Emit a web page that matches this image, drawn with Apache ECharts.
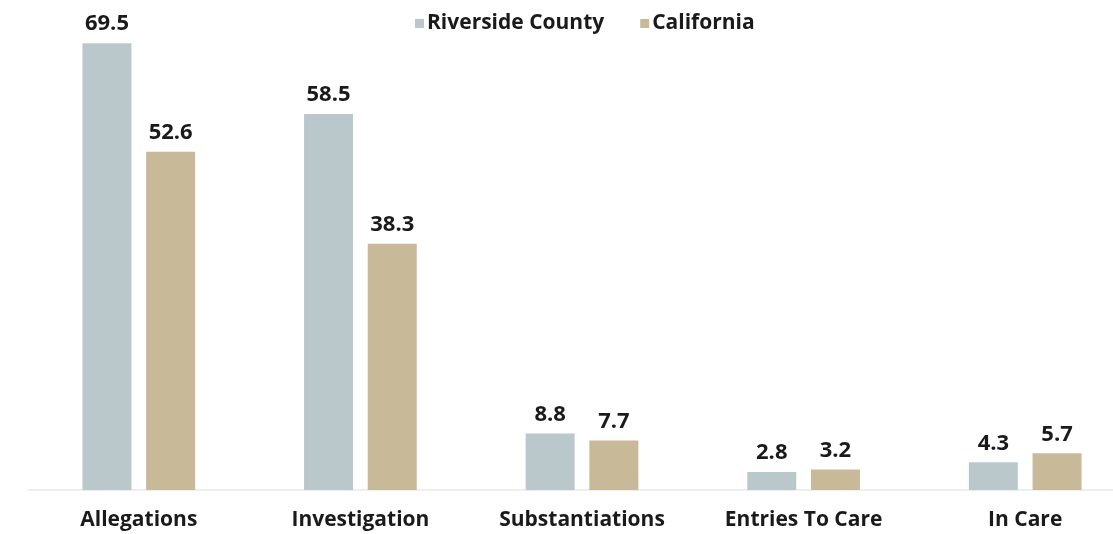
<!DOCTYPE html>
<html>
<head>
<meta charset="utf-8">
<script src="https://cdn.jsdelivr.net/npm/echarts@6/dist/echarts.min.js"></script>
<style>
  html, body { margin: 0; padding: 0; background: #fff; }
  #chart { width: 1113px; height: 534px; }
</style>
</head>
<body>
<div id="chart"></div>
<script>
// Rates per 1,000 children: Riverside County vs. California
const categories = ['Allegations', 'Investigation', 'Substantiations', 'Entries To Care', 'In Care'];
const riversideValues = [69.5, 58.5, 8.8, 2.8, 4.3];
const californiaValues = [52.6, 38.3, 7.7, 3.2, 5.7];
const seriesNames = ['Riverside County', 'California'];

const FONT = '"Open Sans", Lato, sans-serif';
const chart = echarts.init(document.getElementById('chart'), null, { renderer: 'canvas' });

const labelStyle = {
  show: true,
  position: 'top',
  distance: 8,
  color: '#1a1a1a',
  fontFamily: FONT,
  fontSize: 22,
  fontWeight: 'bold',
  formatter: p => p.value.toFixed(1)
};

chart.setOption({
  animation: false,
  backgroundColor: '#ffffff',
  legend: {
    top: 8,
    left: 410,
    itemWidth: 9,
    itemHeight: 9,
    itemGap: 36,
    icon: 'rect',
    textStyle: { fontFamily: FONT, fontSize: 21, fontWeight: 'bold', color: '#1a1a1a', padding: [0, 0, 0, -2] },
    data: seriesNames
  },
  grid: { left: 28, width: 1108, top: 40, bottom: 44, outerBoundsMode: 'none' },
  xAxis: {
    type: 'category',
    data: categories,
    axisLine: { show: true, lineStyle: { color: '#eeeeee', width: 2 } },
    axisTick: { show: false },
    axisLabel: { margin: 20, color: '#1a1a1a', fontFamily: FONT, fontSize: 21, fontWeight: 'bold' }
  },
  yAxis: {
    type: 'value',
    min: 0,
    max: 70,
    show: false,
    splitLine: { show: false }
  },
  series: [
    {
      name: seriesNames[0],
      type: 'bar',
      data: riversideValues,
      barWidth: 49,
      barGap: '30%',
      itemStyle: { color: '#bac8cc' },
      label: labelStyle
    },
    {
      name: seriesNames[1],
      type: 'bar',
      data: californiaValues,
      barWidth: 49,
      barGap: '30%',
      itemStyle: { color: '#c8b998' },
      label: labelStyle
    }
  ]
});
</script>
</body>
</html>
